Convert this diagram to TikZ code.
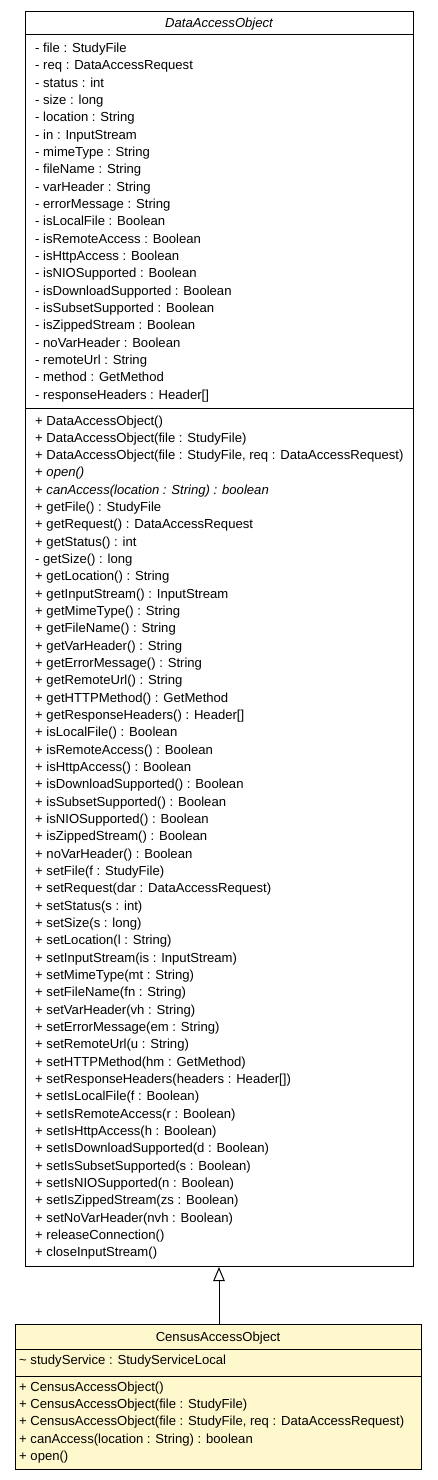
\documentclass[tikz,border=0pt]{standalone}
\usepackage{fontspec}
\setmainfont{Liberation Sans}
\usetikzlibrary{arrows.meta}
\definecolor{classyellow}{HTML}{FFF8CC}
\newcommand{\umlsize}{\fontsize{13.1}{17.3}\selectfont}

\begin{document}
\begin{tikzpicture}[x=1pt, y=-1pt, font=\umlsize,
  classbox/.style={draw, line width=1pt, fill=#1, anchor=north west, inner sep=0pt},
  member/.style={anchor=base west, inner sep=0pt, font=\umlsize},
  classname/.style={anchor=base, inner sep=0pt, font=\umlsize#1},
  sep/.style={line width=1pt},
  inherit/.style={-{Triangle[open, length=14pt, width=11.5pt]}, line width=1pt}
]
  \useasboundingbox (0,0) rectangle (437,1480);
  % Superclass
  \node[classbox=white, minimum width=388pt, minimum height=1255pt] (dao) at (25,11) {};
  \draw[sep] (25,35)  -- (413,35);
  \draw[sep] (25,408) -- (413,408);
  \node[classname=\itshape] (daoname) at (219,27.5) {DataAccessObject};
  % Attributes
  \foreach \txt [count=\i from 0] in {
      - file : StudyFile, - req : DataAccessRequest, - status : int,
      - size : long, - location : String, - in : InputStream,
      - mimeType : String, - fileName : String, - varHeader : String,
      - errorMessage : String, - isLocalFile : Boolean,
      - isRemoteAccess : Boolean, - isHttpAccess : Boolean,
      - isNIOSupported : Boolean, - isDownloadSupported : Boolean,
      - isSubsetSupported : Boolean, - isZippedStream : Boolean,
      - noVarHeader : Boolean, - remoteUrl : String,
      - method : GetMethod, - responseHeaders : Header[]}
    \node[member] (daoattr\i) at (35, 52.5+17.33*\i) {\txt};
  % Operations
  \foreach \txt [count=\i from 0] in {
      + DataAccessObject(), + DataAccessObject(file : StudyFile),
      {+ DataAccessObject(file : StudyFile, req : DataAccessRequest)},
      {+ \textit{open()}}, {+ \textit{canAccess(location : String) : boolean}},
      + getFile() : StudyFile, + getRequest() : DataAccessRequest,
      + getStatus() : int, - getSize() : long, + getLocation() : String,
      + getInputStream() : InputStream, + getMimeType() : String,
      + getFileName() : String, + getVarHeader() : String,
      + getErrorMessage() : String, + getRemoteUrl() : String,
      + getHTTPMethod() : GetMethod, + getResponseHeaders() : Header[],
      + isLocalFile() : Boolean, + isRemoteAccess() : Boolean,
      + isHttpAccess() : Boolean, + isDownloadSupported() : Boolean,
      + isSubsetSupported() : Boolean, + isNIOSupported() : Boolean,
      + isZippedStream() : Boolean, + noVarHeader() : Boolean,
      + setFile(f : StudyFile), + setRequest(dar : DataAccessRequest),
      + setStatus(s : int), + setSize(s : long), + setLocation(l : String),
      + setInputStream(is : InputStream), + setMimeType(mt : String),
      + setFileName(fn : String), + setVarHeader(vh : String),
      + setErrorMessage(em : String), + setRemoteUrl(u : String),
      + setHTTPMethod(hm : GetMethod),
      + setResponseHeaders(headers : Header[]),
      + setIsLocalFile(f : Boolean), + setIsRemoteAccess(r : Boolean),
      + setIsHttpAccess(h : Boolean), + setIsDownloadSupported(d : Boolean),
      + setIsSubsetSupported(s : Boolean), + setIsNIOSupported(n : Boolean),
      + setIsZippedStream(zs : Boolean), + setNoVarHeader(nvh : Boolean),
      + releaseConnection(), + closeInputStream()}
    \node[member] (daoop\i) at (35, 425+17.33*\i) {\txt};

  % Subclass
  \node[classbox=classyellow, minimum width=406pt, minimum height=145pt] (cao) at (15,1324) {};
  \draw[sep] (15,1349) -- (421,1349);
  \draw[sep] (15,1376) -- (421,1376);
  \node[classname=] (caoname) at (218,1341.7) {CensusAccessObject};
  \node[member] (caoattr) at (19,1364.3) {\textasciitilde\ studyService : StudyServiceLocal};
  \foreach \txt [count=\i from 0] in {
      + CensusAccessObject(), + CensusAccessObject(file : StudyFile),
      {+ CensusAccessObject(file : StudyFile, req : DataAccessRequest)},
      + canAccess(location : String) : boolean, + open()}
    \node[member] (caoop\i) at (19, 1391+17.33*\i) {\txt};

  % Generalisation
  \draw[inherit] (cao.north -| 219,0) -- (dao.south -| 219,0);
\end{tikzpicture}
\end{document}
